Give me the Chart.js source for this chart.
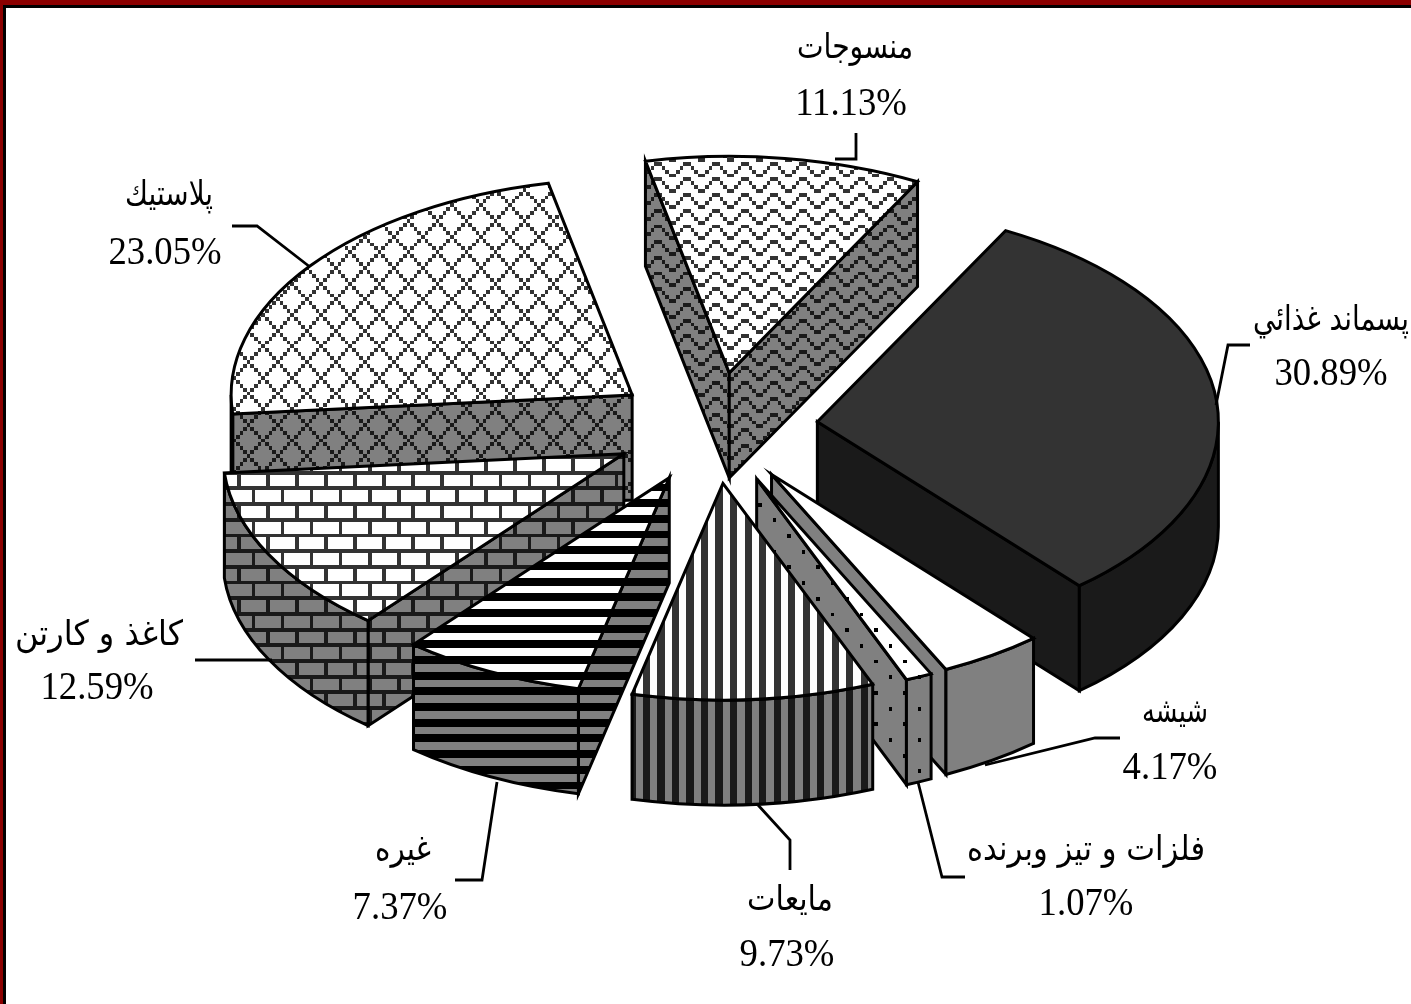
<!DOCTYPE html>
<html>
<head>
<meta charset="utf-8">
<title>ترکیب پسماند</title>
<script src="https://cdn.jsdelivr.net/npm/chart.js@4/dist/chart.umd.min.js"></script>
<style>
  html, body { margin: 0; padding: 0; background: #fff; overflow: hidden; }
  #frame { position: absolute; left: 0; top: 0; width: 1411px; height: 1004px;
           box-sizing: border-box; border-top: 5px solid #8b0000; border-left: 3px solid #8b0000; }
  #frame div { height: 100%; box-sizing: border-box; border-top: 3px solid #000; border-left: 3px solid #000; }
  #waste { position: absolute; left: 0; top: 0; }
</style>
</head>
<body>
<div id="frame"><div></div></div>
<canvas id="waste" width="1411" height="1004"></canvas>
<script>
const categories = ["پسماند غذائي", "شيشه", "فلزات و تيز وبرنده", "مايعات", "غيره", "كاغذ و كارتن", "پلاستيك", "منسوجات"];
const percents = [30.89, 4.17, 1.07, 9.73, 7.37, 12.59, 23.05, 11.13];

// 8x8 fill bitmaps, one string per row
const bitmaps = {
  wave:   ["...##...", "..#..#..", ".#....#.", "#......#", "...##...", "..#..#..", ".#....#.", "#......#"],
  cross:  ["#.......", ".#.....#", "..#...#.", "...#.#..", "....#...", "...#.#..", "..#...#.", ".#.....#"],
  brick:  ["########", "...#....", "...#....", "...#....", "########", ".......#", ".......#", ".......#"],
  hbar:   ["########", "########", "........", "........", "########", "########", "........", "........"],
  vbar:   ["##..##..", "##..##..", "##..##..", "##..##..", "##..##..", "##..##..", "##..##..", "##..##.."],
  dots:   ["#.......", "........", "........", "........", "....#...", "........", "........", "........"],
  none:   ["........", "........", "........", "........", "........", "........", "........", "........"]
};

// fill per slice, same order as categories
const sliceFills = [
  { top: "#333333", side: "#1a1a1a", pattern: "none" },
  { top: "#ffffff", side: "#808080", pattern: "none" },
  { top: "#ffffff", side: "#808080", pattern: "dots", ink: "#000000", sideInk: "#000000", phase: [3, 1] },
  { top: "#ffffff", side: "#808080", pattern: "vbar", ink: "#333333", sideInk: "#1a1a1a", phase: [4, 0] },
  { top: "#ffffff", side: "#808080", pattern: "hbar", ink: "#000000", sideInk: "#000000", phase: [0, -2.5] },
  { top: "#ffffff", side: "#808080", pattern: "brick", ink: "#333333", sideInk: "#1a1a1a", phase: [-6, 0.4] },
  { top: "#ffffff", side: "#808080", pattern: "cross", ink: "#333333", sideInk: "#1a1a1a", phase: [0, -0.5] },
  { top: "#ffffff", side: "#808080", pattern: "wave", ink: "#333333", sideInk: "#1a1a1a", phase: [4.5, 5] }
];

// label anchors and leader polylines, same order as categories
const labelSpots = [
  { x: 1331, y: 330, py: 385, nameWidth: 156, line: [[1216, 405], [1228, 345], [1250, 345]] },
  { x: 1175, y: 722, px: 1170, py: 779, nameWidth: 66, line: [[985, 765], [1095, 738], [1120, 738]] },
  { x: 1086, y: 860, py: 915, nameWidth: 238, line: [[918, 782], [942, 877], [965, 877]] },
  { x: 790, y: 910, px: 787, py: 966, nameWidth: 86, line: [[758, 805], [790, 840], [790, 870]] },
  { x: 403, y: 860, px: 400, py: 919, nameWidth: 56, line: [[497, 782], [482, 880], [455, 880]] },
  { x: 99, y: 645, px: 97, py: 699, nameWidth: 170, line: [[272, 660], [195, 660]] },
  { x: 169, y: 205, px: 165, py: 264, nameWidth: 88, line: [[310, 267], [257, 226], [232, 226]] },
  { x: 855, y: 58, px: 851, py: 115, nameWidth: 116, line: [[856, 133], [856, 159], [835, 159]] }
];

const TILT = 0.54;      // vertical squash of the pie disc
const DEPTH = 105;      // height of the extruded wall
const CELL_X = 3.63;    // bitmap pixel size on screen
const CELL_Y = 3.92;
const TEXT_STRETCH = 1.08;

function makePattern(ctx, rows, bg, ink, phase) {
  const tile = document.createElement("canvas");
  tile.width = 8;
  tile.height = 8;
  const t = tile.getContext("2d");
  t.fillStyle = bg;
  t.fillRect(0, 0, 8, 8);
  t.fillStyle = ink || bg;
  rows.forEach((row, y) => {
    [...row].forEach((c, x) => { if (c === "#") t.fillRect(x, y, 1, 1); });
  });
  const pat = ctx.createPattern(tile, "repeat");
  const [px, py] = phase || [0, 0];
  pat.setTransform(new DOMMatrix().translate(px, py).scale(CELL_X, CELL_Y));
  return pat;
}

function stretchedText(ctx, text, x, y, maxWidth) {
  ctx.save();
  ctx.translate(x, y);
  ctx.scale(1, TEXT_STRETCH);
  if (maxWidth) ctx.fillText(text, 0, 0, maxWidth);
  else ctx.fillText(text, 0, 0);
  ctx.restore();
}

const pie3d = {
  id: "pie3d",
  // replaces the flat arcs with extruded, tilted slices using the arc geometry
  beforeDatasetDraw(chart, args) {
    const ctx = chart.ctx;
    ctx.save();
    ctx.imageSmoothingEnabled = false;
    ctx.lineWidth = 3;
    ctx.lineJoin = "miter";
    ctx.strokeStyle = "#000";

    const slices = args.meta.data.map((arc, i) => {
      const p = arc.getProps(["x", "y", "startAngle", "endAngle", "outerRadius"]);
      const mid = (p.startAngle + p.endAngle) / 2;
      const off = arc.options.offset;
      return {
        i, r: p.outerRadius, a0: p.startAngle, a1: p.endAngle,
        ax: p.x + Math.cos(mid) * off,
        ay: p.y + Math.sin(mid) * off * TILT
      };
    }).sort((a, b) => a.ay - b.ay);

    slices.forEach(s => {
      const fill = sliceFills[s.i];
      const rows = bitmaps[fill.pattern];
      const topFill = makePattern(ctx, rows, fill.top, fill.ink, fill.phase);
      const sideFill = makePattern(ctx, rows, fill.side, fill.sideInk, fill.phase);
      const rx = s.r, ry = s.r * TILT;
      const edge = t => [s.ax + rx * Math.cos(t), s.ay + ry * Math.sin(t)];

      const wall = t => {
        const [ex, ey] = edge(t);
        ctx.beginPath();
        ctx.moveTo(s.ax, s.ay);
        ctx.lineTo(ex, ey);
        ctx.lineTo(ex, ey + DEPTH);
        ctx.lineTo(s.ax, s.ay + DEPTH);
        ctx.closePath();
        ctx.fillStyle = sideFill;
        ctx.fill();
        ctx.stroke();
      };
      // only the radial faces turned towards the viewer
      if (-Math.cos(s.a0) > 0) wall(s.a0);
      if (Math.cos(s.a1) > 0) wall(s.a1);

      // outer wall, front half of the rim only
      const ranges = [[s.a0, s.a1], [s.a0 - 2 * Math.PI, s.a1 - 2 * Math.PI]];
      ranges.forEach(([a, b]) => {
        const from = Math.max(a, 0), to = Math.min(b, Math.PI);
        if (to <= from) return;
        const [fx, fy] = edge(from);
        const [tx, ty] = edge(to);
        ctx.beginPath();
        ctx.moveTo(fx, fy);
        ctx.ellipse(s.ax, s.ay, rx, ry, 0, from, to);
        ctx.lineTo(tx, ty + DEPTH);
        ctx.ellipse(s.ax, s.ay + DEPTH, rx, ry, 0, to, from, true);
        ctx.closePath();
        ctx.fillStyle = sideFill;
        ctx.fill();
        ctx.stroke();
      });

      // top face
      ctx.beginPath();
      ctx.moveTo(s.ax, s.ay);
      ctx.ellipse(s.ax, s.ay, rx, ry, 0, s.a0, s.a1);
      ctx.closePath();
      ctx.fillStyle = topFill;
      ctx.fill();
      ctx.stroke();
    });

    ctx.restore();
    return false;
  },
  afterDraw(chart) {
    const ctx = chart.ctx;
    ctx.save();
    ctx.fillStyle = "#000";
    ctx.strokeStyle = "#000";
    ctx.lineWidth = 2.8;
    ctx.textAlign = "center";
    labelSpots.forEach((spot, i) => {
      ctx.beginPath();
      spot.line.forEach(([x, y], n) => n ? ctx.lineTo(x, y) : ctx.moveTo(x, y));
      ctx.stroke();

      ctx.direction = "rtl";
      ctx.font = "32px 'DejaVu Sans', 'Liberation Serif'";
      stretchedText(ctx, categories[i], spot.x, spot.y, spot.nameWidth);
      ctx.direction = "ltr";
      ctx.font = "36.7px 'Liberation Serif'";
      stretchedText(ctx, percents[i].toFixed(2) + "%", spot.px || spot.x, spot.py);
    });
    ctx.restore();
  }
};

new Chart(document.getElementById("waste"), {
  type: "pie",
  data: {
    labels: categories,
    datasets: [{ data: percents, offset: 103, borderWidth: 0 }]
  },
  options: {
    responsive: false,
    animation: false,
    rotation: 28,
    radius: 401,
    layout: { padding: { left: 19, bottom: 148 } },
    plugins: { legend: { display: false }, tooltip: { enabled: false } }
  },
  plugins: [pie3d]
});
</script>
</body>
</html>
